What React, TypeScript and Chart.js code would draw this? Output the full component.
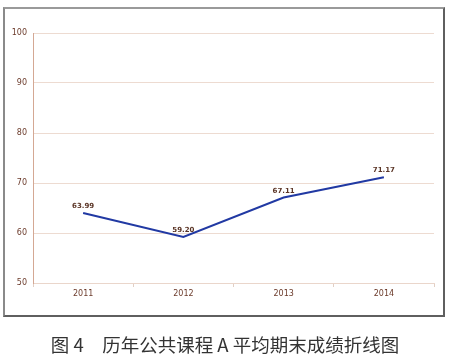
import React, { useEffect, useRef } from "react";
import { Chart, registerables } from "chart.js";

Chart.register(...registerables);

const categories = ["2011", "2012", "2013", "2014"];
const scores = [63.99, 59.2, 67.11, 71.17];
const scoreLabels = ["63.99", "59.20", "67.11", "71.17"];
const yTicks = [50, 60, 70, 80, 90, 100];
const caption = "图 4\u3000历年公共课程 A 平均期末成绩折线图";

const labelPlugin = {
  id: "pointLabels",
  afterDatasetsDraw(chart: any) {
    const ctx = chart.ctx;
    const meta = chart.getDatasetMeta(0);
    ctx.save();
    ctx.font = "bold 7px 'DejaVu Sans'";
    ctx.fillStyle = "#5b3526";
    ctx.textAlign = "center";
    ctx.textBaseline = "bottom";
    meta.data.forEach((pt: any, i: number) => {
      ctx.fillText(scoreLabels[i], pt.x, pt.y - 3);
    });
    ctx.restore();
  },
};

export default function App() {
  const ref = useRef<HTMLCanvasElement>(null);
  useEffect(() => {
    if (!ref.current) return;
    const chart = new Chart(ref.current, {
      type: "line",
      data: {
        labels: categories,
        datasets: [
          {
            data: scores,
            borderColor: "#2139a3",
            borderWidth: 2,
            pointRadius: 0,
            tension: 0,
            fill: false,
          },
        ],
      },
      options: {
        animation: false,
        responsive: false,
        maintainAspectRatio: false,
        layout: { padding: { top: 33, right: 16, left: 0, bottom: 0 } },
        plugins: { legend: { display: false }, tooltip: { enabled: false } },
        scales: {
          x: {
            offset: true,
            afterFit: (s: any) => {
              s.height = 78;
            },
            grid: {
              offset: true,
              drawOnChartArea: false,
              tickLength: 4,
              color: "#e2cfc4",
            },
            border: { color: "#ead6cb", width: 1 },
            ticks: {
              padding: 2,
              color: "#6b3a2a",
              font: { family: "DejaVu Sans", size: 8 },
            },
          },
          y: {
            min: 50,
            max: 100,
            afterFit: (s: any) => {
              s.width = 33;
            },
            afterBuildTicks: (s: any) => {
              s.ticks = yTicks.map((v) => ({ value: v }));
            },
            grid: { color: "#eddbd1", tickLength: 0, lineWidth: 1 },
            border: { color: "#d4a894", width: 1 },
            ticks: {
              padding: 6,
              color: "#6b3a2a",
              font: { family: "DejaVu Sans", size: 8 },
            },
          },
        },
      },
      plugins: [labelPlugin],
    });
    return () => chart.destroy();
  }, []);

  return (
    <div
      style={{
        position: "fixed",
        left: 0,
        top: 0,
        width: 450,
        height: 361,
        background: "#fff",
        overflow: "hidden",
      }}
    >
      <div
        style={{
          position: "absolute",
          left: 3,
          top: 7,
          width: 438,
          height: 306,
          borderTop: "2px solid #9a9a9a",
          borderLeft: "2px solid #8a8a8a",
          borderRight: "2px solid #5f5f5f",
          borderBottom: "2px solid #5f5f5f",
        }}
      />
      <canvas
        ref={ref}
        width={450}
        height={361}
        style={{ position: "absolute", left: 0, top: 0, width: 450, height: 361 }}
      />
      <div
        style={{
          position: "absolute",
          left: 0,
          top: 332,
          width: 450,
          textAlign: "center",
          fontFamily: "'Noto Sans CJK SC'",
          fontSize: 18.5,
          lineHeight: "24px",
          color: "#333",
          whiteSpace: "pre",
        }}
      >
        {caption}
      </div>
    </div>
  );
}
